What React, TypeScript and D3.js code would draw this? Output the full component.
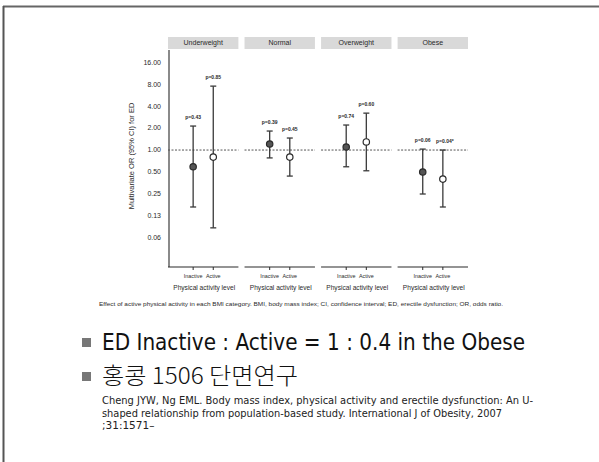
import React, { useEffect, useRef } from 'react';
import * as d3 from 'd3';

const bmiGroups = ['Underweight', 'Normal', 'Overweight', 'Obese'];
const activityLevels = ['Inactive', 'Active'];

// odds ratios
const orInactive = [0.59, 1.21, 1.1, 0.5];
const lowInactive = [0.166, 0.78, 0.59, 0.25];
const highInactive = [2.13, 1.82, 2.2, 1.03];
const pInactive = ['p=0.43', 'p=0.39', 'p=0.74', 'p=0.06'];

const orActive = [0.8, 0.8, 1.29, 0.4];
const lowActive = [0.086, 0.44, 0.52, 0.166];
const highActive = [7.5, 1.46, 3.2, 1.0];
const pActive = ['p=0.85', 'p=0.45', 'p=0.60', 'p=0.04*'];

const yTicks = [16, 8, 4, 2, 1, 0.5, 0.25, 0.125, 0.0625];
const yTickLabels = ['16.00', '8.00', '4.00', '2.00', '1.00', '0.50', '0.25', '0.13', '0.06'];

const caption = 'Effect of active physical activity in each BMI category. BMI, body mass index; CI, confidence interval; ED, erectile dysfunction; OR, odds ratio.';
const bullets = ['ED Inactive : Active = 1 : 0.4 in the Obese', '홍콩 1506 단면연구'];
const citation = [
  'Cheng JYW, Ng EML. Body mass index, physical activity and erectile dysfunction: An U-',
  'shaped relationship from population-based study. International J of Obesity, 2007',
  ';31:1571–',
];

interface Row {
  group: string;
  level: string;
  or: number;
  lo: number;
  hi: number;
  p: string;
}

const App: React.FC = () => {
  const svgRef = useRef<SVGSVGElement>(null);

  useEffect(() => {
    if (!svgRef.current) return;
    const svg = d3.select(svgRef.current);
    svg.selectAll('*').remove();

    const width = 599;
    const height = 462;
    const font = 'Arial, "Liberation Sans", sans-serif';

    svg.append('rect').attr('width', width).attr('height', height).attr('fill', '#fff');

    // slide frame (top + left edge)
    svg.append('line').attr('x1', 3).attr('x2', width).attr('y1', 6.5).attr('y2', 6.5)
      .attr('stroke', '#666').attr('stroke-width', 2);
    svg.append('line').attr('x1', 3.5).attr('x2', 3.5).attr('y1', 6).attr('y2', height)
      .attr('stroke', '#555').attr('stroke-width', 2);

    const rows: Row[] = [];
    bmiGroups.forEach((g, i) => {
      rows.push({ group: g, level: 'Inactive', or: orInactive[i], lo: lowInactive[i], hi: highInactive[i], p: pInactive[i] });
      rows.push({ group: g, level: 'Active', or: orActive[i], lo: lowActive[i], hi: highActive[i], p: pActive[i] });
    });

    const panelX = d3.scaleBand<string>().domain(bmiGroups).range([168, 468]).paddingInner(0.08);
    const bw = panelX.bandwidth();
    const innerX = d3.scalePoint<string>().domain(activityLevels).range([0, bw]).padding(1.25);

    const y = d3.scaleLog().base(2)
      .domain([Math.pow(2, -5.32), Math.pow(2, 4.55)])
      .range([267, 50]);

    const g = svg.append('g');
    const ink = '#2a2a2a';

    // y axis
    g.append('line').attr('x1', 169).attr('x2', 169).attr('y1', y.range()[1]).attr('y2', y.range()[0])
      .attr('stroke', ink).attr('stroke-width', 1.1);
    yTicks.forEach((t, i) => {
      g.append('text')
        .attr('x', 161).attr('y', y(t)).attr('dy', '0.35em')
        .attr('text-anchor', 'end')
        .attr('font-family', font).attr('font-size', 7).attr('fill', ink)
        .text(yTickLabels[i]);
    });
    g.append('text')
      .attr('transform', `translate(134,${156}) rotate(-90)`)
      .attr('text-anchor', 'middle')
      .attr('font-family', font).attr('font-size', 7.5).attr('fill', ink)
      .text('Multivariate OR (95% CI) for ED');

    bmiGroups.forEach((grp) => {
      const x0 = panelX(grp) as number;
      const panel = g.append('g').attr('transform', `translate(${x0},0)`);

      // strip
      panel.append('rect').attr('x', 0).attr('y', 37).attr('width', bw).attr('height', 12).attr('fill', '#d9d9d9');
      panel.append('text').attr('x', bw / 2).attr('y', 43).attr('dy', '0.35em')
        .attr('text-anchor', 'middle').attr('font-family', font).attr('font-size', 7).attr('fill', ink)
        .text(grp);

      // reference line at OR = 1
      panel.append('line').attr('x1', 0).attr('x2', bw).attr('y1', y(1)).attr('y2', y(1))
        .attr('stroke', '#555').attr('stroke-width', 1).attr('stroke-dasharray', '2,1.5');

      // x axis
      panel.append('line').attr('x1', 0).attr('x2', bw).attr('y1', 267).attr('y2', 267)
        .attr('stroke', ink).attr('stroke-width', 1.1);
      activityLevels.forEach((lv) => {
        const cx = innerX(lv) as number;
        panel.append('line').attr('x1', cx).attr('x2', cx).attr('y1', 267).attr('y2', 270)
          .attr('stroke', ink);
        panel.append('text').attr('x', cx).attr('y', 278)
          .attr('text-anchor', 'middle').attr('font-family', font).attr('font-size', 5.4).attr('fill', ink)
          .text(lv);
      });
      panel.append('text').attr('x', bw / 2 + 1).attr('y', 290)
        .attr('text-anchor', 'middle').attr('font-family', font).attr('font-size', 6.6).attr('fill', ink)
        .text('Physical activity level');

      rows.filter((r) => r.group === grp).forEach((r) => {
        const cx = innerX(r.level) as number;
        const col = '#3a3a3a';
        panel.append('line').attr('x1', cx).attr('x2', cx).attr('y1', y(r.hi)).attr('y2', y(r.lo))
          .attr('stroke', col).attr('stroke-width', 1.3);
        [r.hi, r.lo].forEach((v) => {
          panel.append('line').attr('x1', cx - 3).attr('x2', cx + 3).attr('y1', y(v)).attr('y2', y(v))
            .attr('stroke', col).attr('stroke-width', 1.3);
        });
        panel.append('circle').attr('cx', cx).attr('cy', y(r.or)).attr('r', 3.2)
          .attr('fill', r.level === 'Inactive' ? '#555' : '#fff')
          .attr('stroke', '#2a2a2a').attr('stroke-width', 1.2);
        panel.append('text')
          .attr('x', cx + (r.p.endsWith('*') ? 2 : 0)).attr('y', y(r.hi) - 7)
          .attr('text-anchor', 'middle').attr('font-family', font).attr('font-size', 5).attr('font-weight', 'bold')
          .attr('fill', ink)
          .text(r.p);
      });
    });

    // caption
    svg.append('text').attr('x', 99).attr('y', 306)
      .attr('font-family', font).attr('font-size', 5).attr('fill', ink)
      .attr('textLength', 404).attr('lengthAdjust', 'spacingAndGlyphs')
      .text(caption);

    // bullets
    const slideFont = 'Tahoma, "DejaVu Sans", "Noto Sans CJK KR", sans-serif';
    const bulletY = [350, 384];
    const bulletW = [423, 196];
    bullets.forEach((b, i) => {
      svg.append('rect').attr('x', 82).attr('y', bulletY[i] - 12).attr('width', 9).attr('height', 9).attr('fill', '#777');
      svg.append('text').attr('x', 102).attr('y', bulletY[i])
        .attr('font-family', i === 1 ? '"Noto Sans CJK KR", "DejaVu Sans", sans-serif' : slideFont)
        .attr('font-weight', i === 1 ? 300 : 400)
        .attr('font-size', 23).attr('fill', '#111')
        .attr('textLength', bulletW[i]).attr('lengthAdjust', 'spacingAndGlyphs')
        .text(b);
    });

    const citeW = [431, 400, 0];
    citation.forEach((line, i) => {
      const t = svg.append('text').attr('x', 102).attr('y', 404 + i * 12.5)
        .attr('font-family', slideFont).attr('font-size', 10.5).attr('fill', '#222')
        .text(line);
      if (citeW[i] > 0) t.attr('textLength', citeW[i]).attr('lengthAdjust', 'spacingAndGlyphs');
    });
  }, []);

  return (
    <svg
      ref={svgRef}
      width={599}
      height={462}
      style={{ position: 'absolute', left: 0, top: 0, display: 'block' }}
    />
  );
};

export default App;
